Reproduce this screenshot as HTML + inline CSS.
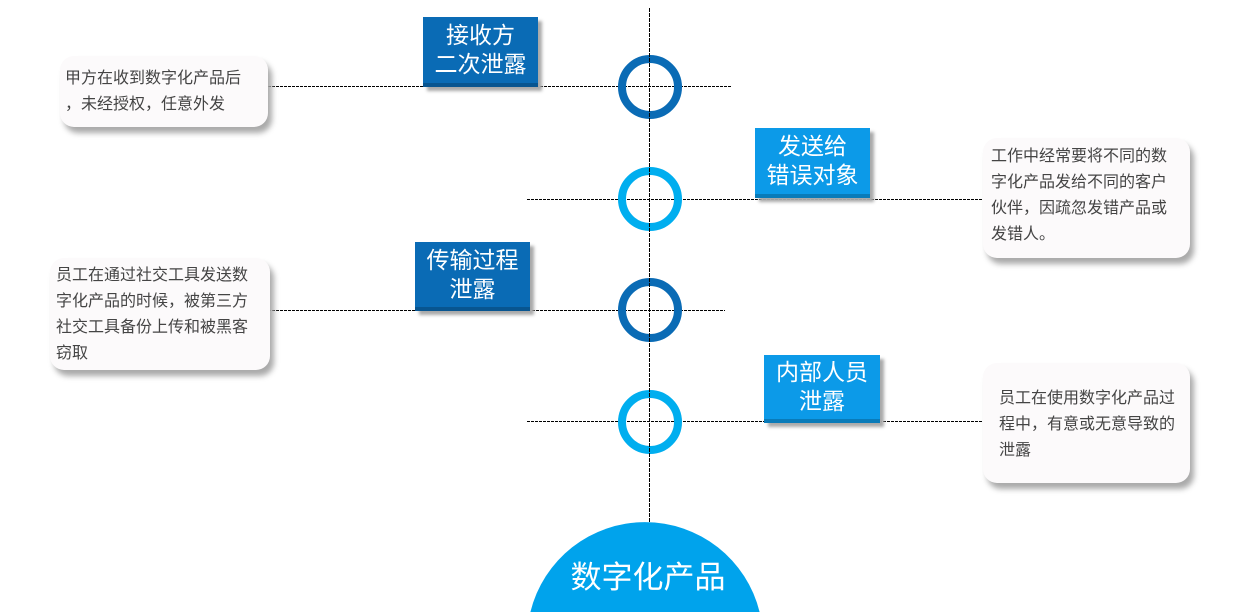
<!DOCTYPE html>
<html style="overflow:hidden;width:1252px;height:612px"><head><meta charset="utf-8"><style>
body{margin:0;width:1252px;height:612px;overflow:hidden;background:#fff;position:relative;font-family:"Liberation Sans","Noto Sans CJK SC",sans-serif}
.b{position:absolute;color:#fff;text-align:center;font-size:23px;line-height:29px;box-shadow:4px 4px 3px #aaa;border-bottom:4px solid rgba(0,0,0,.2);box-sizing:border-box;display:flex;align-items:center;justify-content:center}
.d{background:#0a6bb5}.l{background:#0c9ae8}
.t{position:absolute;background:#fcfafb;border-radius:14px;box-shadow:4px 6px 6px #aaa;color:#444;font-size:16px;line-height:26px;box-sizing:border-box}
svg{position:absolute;left:0;top:0;display:block}
</style></head><body>
<svg width="1252" height="612">
<g stroke="#000" stroke-width="1" stroke-dasharray="3,1" fill="none">
<line x1="268" y1="86.5" x2="732" y2="86.5"/>
<line x1="527" y1="199.5" x2="983" y2="199.5"/>
<line x1="268" y1="310.5" x2="725" y2="310.5"/>
<line x1="527" y1="421.5" x2="983" y2="421.5"/>
</g>
<g fill="none" stroke-width="8">
<circle cx="650" cy="87" r="28" stroke="#0a6bb5"/>
<circle cx="650" cy="199" r="28" stroke="#00aeef"/>
<circle cx="650" cy="310" r="28" stroke="#0a6bb5"/>
<circle cx="650" cy="422" r="28" stroke="#00aeef"/>
</g>
<g stroke="#000" stroke-width="1" stroke-dasharray="4,1"><line x1="649.5" y1="8" x2="649.5" y2="612"/></g>
<path d="M530.4,612 A118,118 0 0 1 759.6,612 Z" fill="#00a3ec"/>
<text x="648" y="588" fill="#fff" font-size="31" text-anchor="middle" font-family="Liberation Sans, Noto Sans CJK SC, sans-serif">数字化产品</text>
</svg>
<div class="b d" style="left:423px;top:17px;width:115px;height:70px">接收方<br>二次泄露</div>
<div class="b l" style="left:755px;top:128px;width:115px;height:70px">发送给<br>错误对象</div>
<div class="b d" style="left:415px;top:242px;width:115px;height:69px">传输过程<br>泄露</div>
<div class="b l" style="left:764px;top:355px;width:116px;height:68px">内部人员<br>泄露</div>
<div class="t" style="left:60px;top:56px;width:208px;height:71px;padding:10px 0 0 5px">甲方在收到数字化产品后<br>，未经授权，任意外发</div>
<div class="t" style="left:50px;top:258px;width:220px;height:112px;padding:5px 0 0 6px">员工在通过社交工具发送数<br>字化产品的时候，被第三方<br>社交工具备份上传和被黑客<br>窃取</div>
<div class="t" style="left:983px;top:138px;width:207px;height:120px;padding:6px 0 0 8px">工作中经常要将不同的数<br>字化产品发给不同的客户<br>伙伴，因疏忽发错产品或<br>发错人。</div>
<div class="t" style="left:983px;top:363px;width:207px;height:120px;padding:23px 0 0 16px">员工在使用数字化产品过<br>程中，有意或无意导致的<br>泄露</div>
</body></html>
